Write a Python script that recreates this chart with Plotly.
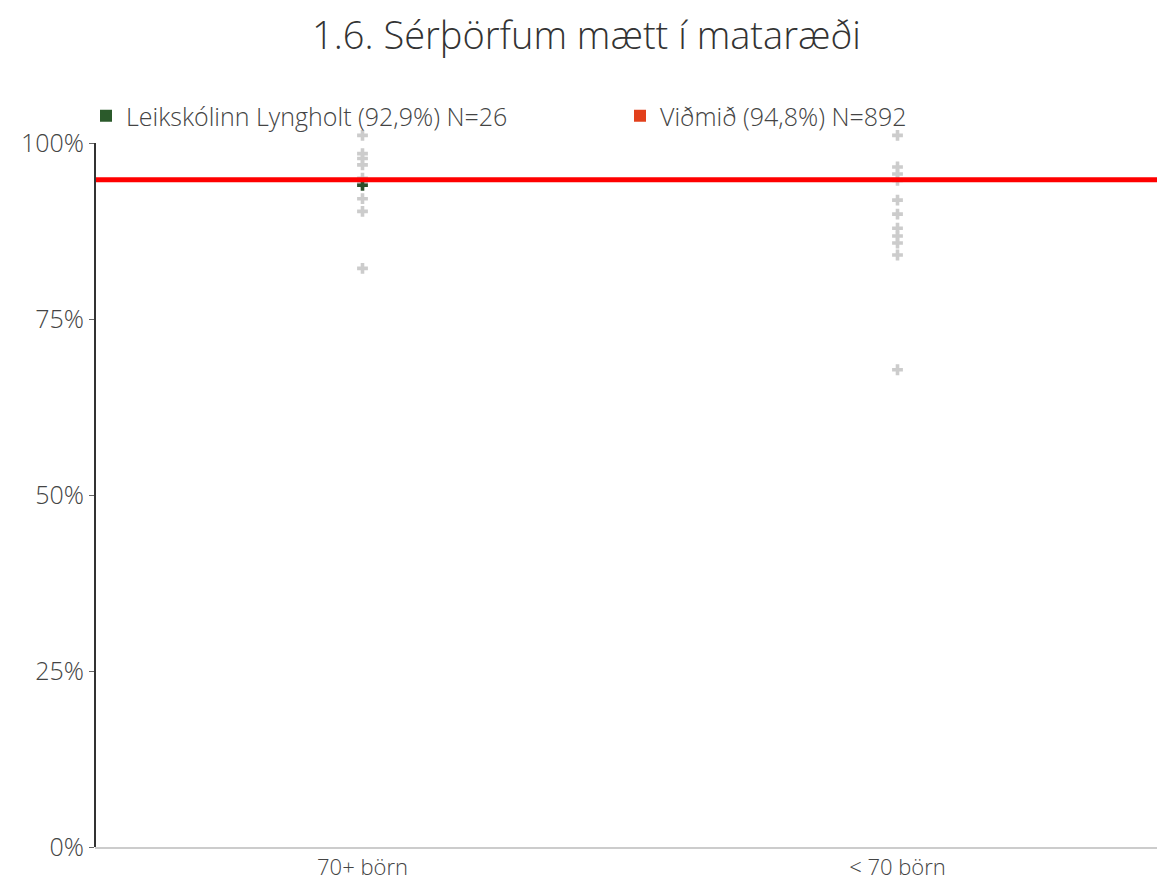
import plotly.graph_objects as go

title = "1.6. Sérþörfum mætt í mataræði"
categories = ["70+ börn", "< 70 börn"]
# other schools' values as they appear
others_70plus = [101.1, 98.5, 97.8, 96.9, 95.0, 94.4, 92.1, 90.3, 82.2]
others_under70 = [101.1, 96.6, 95.6, 94.7, 91.9, 89.9, 87.9, 86.8, 85.8, 84.1, 67.8]
school_name = "Leikskólinn Lyngholt (92,9%) N=26"
school_category = "70+ börn"
school_value = 94.0
benchmark_name = "Viðmið (94,8%) N=892"
benchmark_value = 94.8
y_ticks = [0, 25, 50, 75, 100]
y_tick_labels = ["0%", "25%", "50%", "75%", "100%"]
y_max_axis = 100

FONT = "Open Sans"
W, H = 1157, 873   # page body adds an 8px offset
fig = go.Figure()

xs = [categories[0]] * len(others_70plus) + [categories[1]] * len(others_under70)
ys = others_70plus + others_under70
fig.add_trace(go.Scatter(
    x=xs, y=ys, mode="markers", showlegend=False, cliponaxis=False,
    marker=dict(symbol="cross", size=9, color="#cccccc"),
    hoverinfo="skip"))

fig.add_trace(go.Scatter(
    x=[school_category], y=[school_value], mode="markers", showlegend=False,
    cliponaxis=False, marker=dict(symbol="cross", size=9, color="#2b4f2b")))

fig.add_shape(type="line", xref="paper", x0=0, x1=1, yref="y",
              y0=benchmark_value, y1=benchmark_value,
              line=dict(color="#ff0000", width=5))
# y axis line from 0% to 100%
fig.add_shape(type="line", xref="paper", x0=0, x1=0, yref="y",
              y0=0, y1=y_max_axis, line=dict(color="#333333", width=2))

fig.add_trace(go.Scatter(x=[None], y=[None], mode="markers", name=school_name,
                         legend="legend",
                         marker=dict(symbol="square", size=11, color="#2b5a2b")))
fig.add_trace(go.Scatter(x=[None], y=[None], mode="markers", name=benchmark_name,
                         legend="legend2",
                         marker=dict(symbol="square", size=11, color="#e2401c")))

legend_common = dict(orientation="h", xref="container", xanchor="left",
                     yref="container", yanchor="middle", y=1 - 108 / H,
                     font=dict(family=FONT, size=25, color="#444444", weight=300),
                     itemsizing="constant", bgcolor="rgba(0,0,0,0)")

fig.update_layout(
    width=W, height=H,
    margin=dict(l=87, r=0, t=121, b=34, autoexpand=False),
    paper_bgcolor="white", plot_bgcolor="white",
    font=dict(family=FONT, color="#444444", size=25),
    title=dict(text=title, x=0.5, xanchor="center", y=1 - 28 / H, yanchor="middle",
               font=dict(family=FONT, size=38, color="#333333", weight=300)),
    legend=dict(x=78 / W, **legend_common),
    legend2=dict(x=612 / W, **legend_common),
    xaxis=dict(type="category", categoryorder="array", categoryarray=categories,
               range=[-0.5, 1.5], showgrid=False, zeroline=False,
               showline=True, linecolor="#cccccc", linewidth=2, ticks="",
               tickfont=dict(family=FONT, size=22, color="#444444", weight=300)),
    yaxis=dict(range=[0, 102], tickvals=y_ticks, ticktext=y_tick_labels,
               showgrid=False, zeroline=False, showline=False,
               ticks="outside", ticklen=5, tickcolor="#666666",
               tickfont=dict(family=FONT, size=25, color="#444444", weight=300)),
)

fig.write_html("out.html")
